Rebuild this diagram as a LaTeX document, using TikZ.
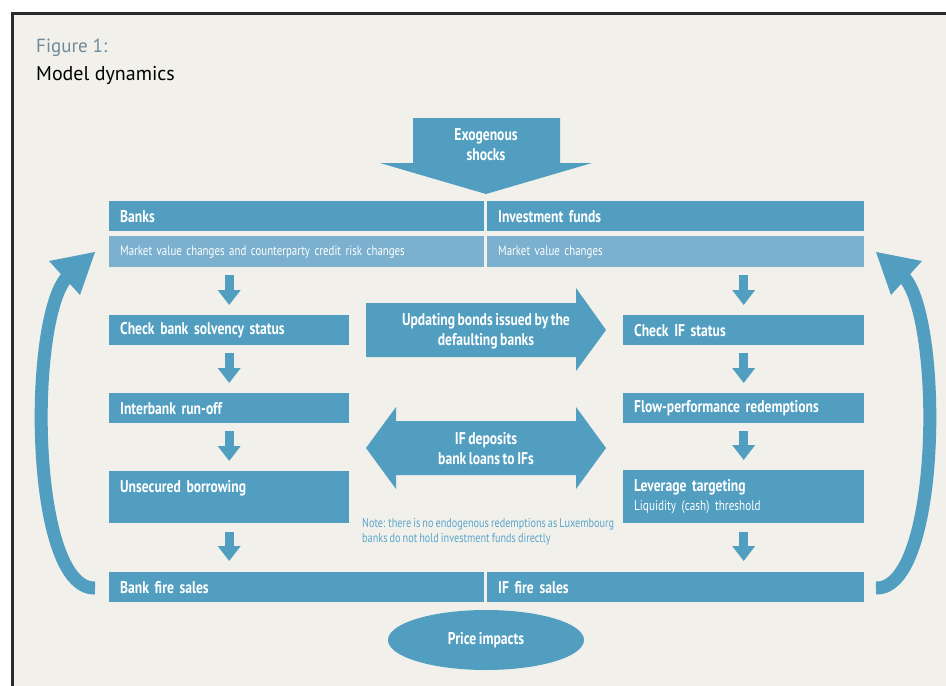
\documentclass[tikz,border=0pt]{standalone}
\usepackage{fontspec}
\setmainfont{PT Sans}[FakeStretch=0.8,WordSpace=0.75]
\newfontfamily\titlef{PT Sans}
\usetikzlibrary{arrows.meta,calc,shapes.geometric}
\definecolor{bg}{HTML}{F1F0EA}
\definecolor{mainblue}{HTML}{519EC0}
\definecolor{lightblue}{HTML}{7BB0CE}
\definecolor{notecol}{HTML}{5AA6CC}
\definecolor{figgray}{HTML}{6F8A9B}
\definecolor{framecol}{HTML}{2B2B2B}
\begin{document}
\begin{tikzpicture}[x=1pt,y=-1pt,
  lbl/.style={font=\bfseries\fontsize{17}{19}\selectfont},
  box/.style={fill=mainblue,text=white,lbl,inner xsep=11pt,inner ysep=0pt,
    minimum height=30pt,align=left,anchor=north west,text width=#1},
  subbox/.style={fill=lightblue,text=white,font=\fontsize{13.6}{17}\selectfont,
    inner xsep=11pt,inner ysep=0pt,minimum height=31pt,align=left,
    anchor=north west,text width=#1},
  smallarr/.style={draw=mainblue,line width=9pt,
    -{Triangle[width=22pt,length=15pt]}},
  bigtxt/.style={text=white,lbl,align=center,
    font=\bfseries\fontsize{17}{20}\selectfont},
  shaft/.style={draw=mainblue,line width=13pt}
]
\useasboundingbox (0,0) rectangle (946,686);
\fill[white] (0,0) rectangle (946,686);
\fill[bg] (12.5,13.5) rectangle (950,690);
\draw[framecol,line width=3pt] (12.5,700) -- (12.5,13.5) -- (950,13.5);

% titles
\node[anchor=base west,inner sep=0,text=figgray,font=\titlef\fontsize{19}{22}\selectfont] (fig) at (36,52) {Figure 1:};
\node[anchor=base west,inner sep=0,text=black,font=\titlef\fontsize{20}{24}\selectfont] (title) at (36,80) {Model dynamics};

% exogenous shocks arrow
\fill[mainblue] (413,118) -- (560,118) -- (560,163) -- (592,163) -- (486,194) -- (380,163) -- (413,163) -- cycle;
\node[bigtxt] (exo) at (486,145) {Exogenous\\shocks};

% headers
\node[box=353pt] (banks) at (109,201) {Banks};
\node[box=355pt] (funds) at (487,201) {Investment funds};
\node[subbox=353pt] (sub1) at (109,236) {Market value changes and counterparty credit risk changes};
\node[subbox=355pt] (sub2) at (487,236) {Market value changes};

% left column
\node[box=218pt] (chkb) at (109,315) {Check bank solvency status};
\node[box=218pt] (inter) at (109,393) {Interbank run-off};
\node[box=218pt,minimum height=52pt] (unsec) at (109,471) {Unsecured borrowing\\{\mdseries\fontsize{14}{17}\selectfont\phantom{Liquidity}}};
\node[box=353pt] (bfire) at (109,572) {Bank fire sales};

% right column
\node[box=219pt] (chkif) at (623,315) {Check IF status};
\node[box=219pt] (flow) at (623,393) {Flow-performance redemptions};
\node[box=219pt,minimum height=53pt] (lev) at (623,470) {Leverage targeting\\{\mdseries\fontsize{14}{17}\selectfont Liquidity (cash) threshold}};
\node[box=355pt] (iffire) at (487,572) {IF fire sales};

% small arrows
\draw[smallarr,shorten <=8pt,shorten >=10pt] (chkb.north |- sub1.south) -- (chkb.north);
\draw[smallarr,shorten <=8pt,shorten >=10pt] (chkb.south) -- (inter.north);
\draw[smallarr,shorten <=8pt,shorten >=10pt] (inter.south) -- (unsec.north);
\draw[smallarr,shorten <=9pt,shorten >=11pt] (unsec.south) -- (unsec.south |- bfire.north);
\draw[smallarr,shorten <=8pt,shorten >=10pt] (chkif.north |- sub2.south) -- (chkif.north);
\draw[smallarr,shorten <=8pt,shorten >=10pt] (chkif.south) -- (flow.north);
\draw[smallarr,shorten <=8pt,shorten >=10pt] (flow.south) -- (lev.north);
\draw[smallarr,shorten <=9pt,shorten >=11pt] (lev.south) -- (lev.south |- iffire.north);

% middle arrows
\fill[mainblue] (366,303) -- (576,303) -- (576,288) -- (606,330) -- (576,371) -- (576,357) -- (366,357) -- cycle;
\node[bigtxt] (upd) at (486,331) {Updating bonds issued by the\\defaulting banks};
\fill[mainblue] (366,448) -- (396,407) -- (396,421) -- (576,421) -- (576,407) -- (606,448) -- (576,489) -- (576,475) -- (396,475) -- (396,489) -- cycle;
\node[bigtxt] (dep) at (486,449) {IF deposits\\bank loans to IFs};

% note
\node[anchor=base west,inner sep=0,align=left,text=notecol,font=\fontsize{12.8}{15}\selectfont] (note) at (362,542) {Note: there is no endogenous redemptions as Luxembourg\\banks do not hold investment funds directly};

% price impacts
\node[ellipse,fill=mainblue,minimum width=196pt,minimum height=60pt,inner sep=0pt,text=white,lbl] (price) at (486,640) {Price impacts};

% curved feedback arrows
\coordinate (lstart) at (95,588);
\coordinate (lend) at (67,277);
\draw[shaft] (lstart) .. controls (30,590) and (28,320) .. (lend);
\fill[mainblue] (49,261) -- (95,252) -- (80,295) -- cycle;
\coordinate (rstart) at (876,588);
\coordinate (rend) at (904,277);
\draw[shaft] (rstart) .. controls (941,590) and (943,320) .. (rend);
\fill[mainblue] (922,261) -- (876,252) -- (891,295) -- cycle;
\end{tikzpicture}
\end{document}
